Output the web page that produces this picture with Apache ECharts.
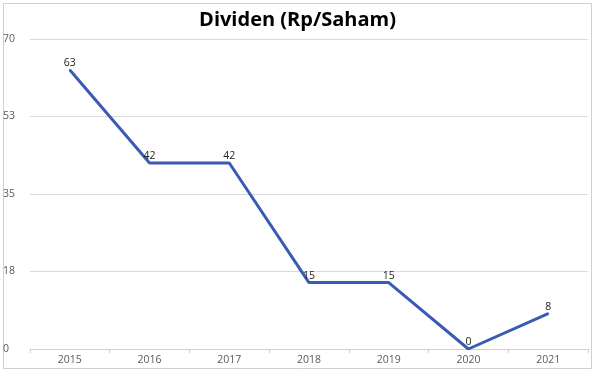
<!DOCTYPE html>
<html><head><meta charset="utf-8">
<script src="https://cdn.jsdelivr.net/npm/echarts@6/dist/echarts.min.js"></script>
<style>html,body{margin:0;padding:0;background:#fff}#c{width:595px;height:376px}</style>
</head><body><div id="c"></div>
<script>
const categories = ['2015','2016','2017','2018','2019','2020','2021'];
const values = [63, 42, 42, 15, 15, 0, 8];
const titleText = 'Dividen (Rp/Saham)';
const yMin = 0, yMax = 70, yInterval = 17.5;

const chart = echarts.init(document.getElementById('c'), null, {renderer:'canvas'});
chart.setOption({
  animation: false,
  backgroundColor: '#fff',
  title: {
    text: titleText, left: 'center', top: 5,
    textStyle: {fontFamily: 'Open Sans', fontWeight: 'bold', fontSize: 20, color: '#000'}
  },
  graphic: [{
    type: 'rect', shape: {x: 3.5, y: 3.5, width: 588, height: 365},
    style: {fill: 'none', stroke: '#d0d0d0', lineWidth: 1}, silent: true, z: -1
  }],
  grid: {left: 30, right: 7, top: 39, bottom: 27},
  xAxis: {
    type: 'category', data: categories, boundaryGap: true,
    axisLine: {lineStyle: {color: '#d0d0d0'}},
    axisTick: {show: true, inside: false, length: 4, lineStyle: {color: '#d0d0d0'}},
    axisLabel: {color: '#595959', fontSize: 10.5, fontFamily: 'Open Sans', margin: 6}
  },
  yAxis: {
    type: 'value', min: yMin, max: yMax, interval: yInterval,
    axisLine: {show: false}, axisTick: {show: false},
    splitLine: {lineStyle: {color: '#d9d9d9'}},
    axisLabel: {color: '#595959', fontSize: 10.5, fontFamily: 'Open Sans', align: 'left', margin: 27,
      formatter: v => String(Math.round(v))}
  },
  series: [{
    type: 'line', data: values, symbol: 'circle', symbolSize: 2, showSymbol: true,
    itemStyle: {color: '#3a5bb5'},
    lineStyle: {color: '#3a5bb5', width: 3},
    labelLayout: {hideOverlap: false},
    label: {show: true, position: 'top', distance: 0, color: '#222', fontSize: 10.5, fontFamily: 'Open Sans'}
  }]
});
</script></body></html>
